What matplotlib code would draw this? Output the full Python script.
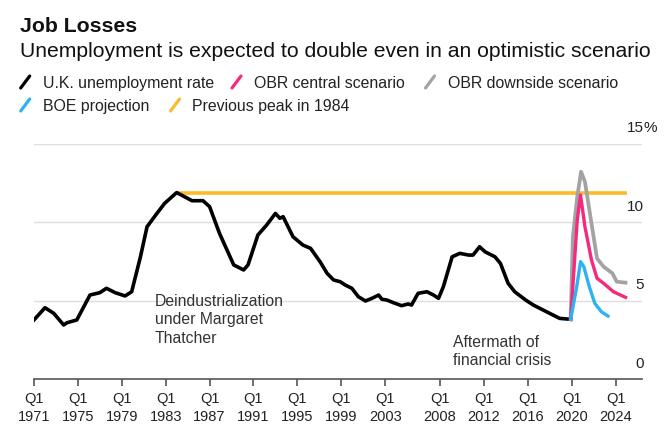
import matplotlib
matplotlib.use("Agg")
import matplotlib.pyplot as plt
from matplotlib.lines import Line2D
from matplotlib import transforms

W, H = 665, 425
plt.rcParams['font.family'] = ['Liberation Sans', 'DejaVu Sans']

# ---------------- data ----------------
uk_years = [1971.0, 1972.0, 1972.8, 1973.7, 1974.0, 1974.9, 1976.1, 1977.0, 1977.6,
            1978.4, 1979.3, 1979.9, 1980.7, 1981.3, 1982.2, 1982.9, 1984.0, 1985.4,
            1986.4, 1987.0, 1987.9, 1989.2, 1990.1, 1990.5, 1991.4, 1992.2, 1993.0,
            1993.4, 1993.7, 1994.6, 1995.5, 1996.2, 1997.1, 1997.7, 1998.3, 1998.9,
            1999.35, 1999.96, 2000.56, 2001.2, 2001.8, 2002.4, 2002.7, 2003.15, 2003.75,
            2004.5, 2005.1, 2005.4, 2006.0, 2006.8, 2007.4, 2007.86, 2008.3, 2009.1,
            2009.8, 2010.6, 2011.0, 2011.6, 2012.1, 2013.0, 2013.5, 2014.2, 2014.8,
            2015.8, 2016.5, 2017.4, 2018.3, 2018.9, 2019.9]
uk_rate = [3.77, 4.55, 4.19, 3.45, 3.59, 3.77, 5.36, 5.51, 5.79,
           5.51, 5.30, 5.57, 7.80, 9.72, 10.57, 11.21, 11.90, 11.38,
           11.38, 11.00, 9.30, 7.28, 6.96, 7.28, 9.19, 9.83, 10.57,
           10.26, 10.36, 9.08, 8.55, 8.34, 7.45, 6.75, 6.32, 6.21,
           6.00, 5.79, 5.25, 4.98, 5.15, 5.36, 5.09, 5.04, 4.87,
           4.68, 4.79, 4.72, 5.47, 5.57, 5.36, 5.15, 5.89, 7.80,
           8.02, 7.91, 7.91, 8.44, 8.12, 7.80, 7.38, 6.11, 5.57,
           5.04, 4.72, 4.40, 4.08, 3.87, 3.81]

down_years = [2019.9, 2020.1, 2020.5, 2020.85, 2021.2, 2021.7, 2022.3, 2022.9, 2023.7, 2024.1, 2024.9]
down_rate = [3.81, 9.08, 11.63, 13.23, 12.59, 10.36, 7.70, 7.17, 6.75, 6.21, 6.15]

central_years = [2019.9, 2020.5, 2020.8, 2021.2, 2021.8, 2022.3, 2022.9, 2023.8, 2024.9]
central_rate = [3.81, 10.15, 11.74, 9.72, 7.59, 6.43, 6.11, 5.57, 5.21]

boe_years = [2019.9, 2020.45, 2020.8, 2021.1, 2021.6, 2022.1, 2022.7, 2023.3]
boe_rate = [3.81, 5.89, 7.49, 7.17, 5.89, 4.83, 4.29, 4.02]

peak_years = [1984.0, 2025.0]
peak_rate = [11.9, 11.9]

tick_years = [1971, 1975, 1979, 1983, 1987, 1991, 1995, 1999, 2003, 2008, 2012, 2016, 2020, 2024]
tick_labels = ["Q1\n%d" % y for y in tick_years]
y_ticks = [0, 5, 10, 15]
y_labels = ["0", "5", "10", "15"]

C_BLACK = "#000000"
C_PINK = "#f52a7d"
C_GRAY = "#a3a3a3"
C_BLUE = "#2db3f2"
C_YELLOW = "#fbbb2a"
TXT = "#222222"

# ---------------- figure ----------------
fig = plt.figure(figsize=(W / 100, H / 100), dpi=100)
fx = lambda x: x / W
fy = lambda y: 1 - y / H

ax = fig.add_axes([fx(34), fy(379), fx(642) - fx(34), fy(144) - fy(379)])
ax.set_xlim(1971, 2026.4)
ax.set_ylim(0, 15)

for v in [5, 10, 15]:
    ax.axhline(v, color="#dedede", lw=1.0, zorder=1)

ax.plot(peak_years, peak_rate, color=C_YELLOW, lw=2.6, zorder=2, solid_capstyle="butt")
ax.plot(uk_years, uk_rate, color=C_BLACK, lw=2.6, zorder=3, solid_joinstyle="round")
ax.plot(down_years, down_rate, color=C_GRAY, lw=2.7, zorder=4, solid_joinstyle="round")
ax.plot(central_years, central_rate, color=C_PINK, lw=2.4, zorder=5, solid_joinstyle="round")
ax.plot(boe_years, boe_rate, color=C_BLUE, lw=2.4, zorder=6, solid_joinstyle="round")

for s in ["top", "right", "left"]:
    ax.spines[s].set_visible(False)
ax.spines["bottom"].set_color("#555555")
ax.spines["bottom"].set_linewidth(1.2)
ax.set_yticks([])
ax.set_xticks(tick_years)
ax.set_xticklabels(tick_labels, fontsize=10.5, color=TXT, linespacing=1.45)
ax.tick_params(axis="x", length=5, width=1.2, color="#555555", pad=4)

# right-side y labels, sitting above gridlines
trans = transforms.blended_transform_factory(ax.transAxes, ax.transData)
lab_tr = transforms.offset_copy(trans, fig=fig, x=1, y=15.5 * 0.72, units="points")
for v, lab in zip(y_ticks, y_labels):
    ax.text(1.0, v, lab, transform=lab_tr, ha="right", va="center", fontsize=11, color=TXT, clip_on=False)
ax.text(1.0, 15, "%", transform=lab_tr, ha="left", va="center", fontsize=11, color=TXT, clip_on=False)

# annotations
ax.text(1982.03, 3.77, "Deindustrialization\nunder Margaret\nThatcher", ha="left", va="center",
        fontsize=11.3, color="#333333", linespacing=1.28, zorder=2)
ax.text(2009.17, 1.74, "Aftermath of\nfinancial crisis", ha="left", va="center",
        fontsize=11.3, color="#333333", linespacing=1.28)

# ---------------- header ----------------
fig.text(fx(20), fy(32), "Job Losses", fontsize=15.3, fontweight="bold", color="#111111", va="baseline")
fig.text(fx(20), fy(57), "Unemployment is expected to double even in an optimistic scenario",
         fontsize=15.25, color="#111111", va="baseline")

legend_items = [
    (C_BLACK, "U.K. unemployment rate", 20.7, 88),
    (C_PINK, "OBR central scenario", 232.0, 88),
    (C_GRAY, "OBR downside scenario", 425.5, 88),
    (C_BLUE, "BOE projection", 20.7, 111),
    (C_YELLOW, "Previous peak in 1984", 170.5, 111),
]
for col, lab, x0, base in legend_items:
    fig.add_artist(Line2D([fx(x0), fx(x0 + 9)], [fy(base), fy(base - 12)], color=col, lw=2.3,
                          transform=fig.transFigure, solid_capstyle="round"))
    fig.text(fx(x0 + 22), fy(base), lab, fontsize=11.4, color="#222222", va="baseline")

fig.savefig("out.png", dpi=100)
